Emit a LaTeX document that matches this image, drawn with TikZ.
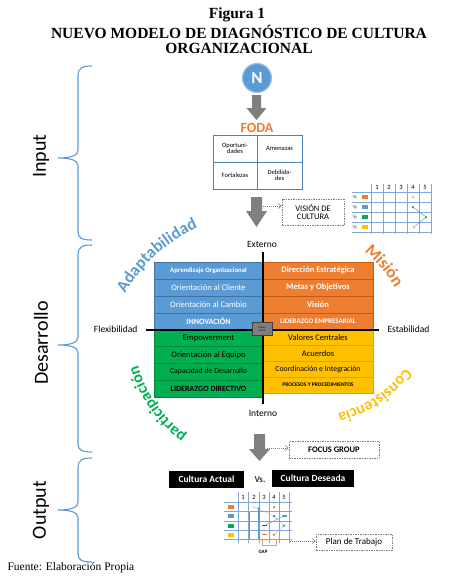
\documentclass[tikz,border=0pt]{standalone}
\usepackage{fontspec}
\setmainfont{Liberation Serif}
\newfontfamily\cbr{Carlito}
\usetikzlibrary{decorations.text,arrows.meta}
\definecolor{cblue}{HTML}{5B9BD5}
\definecolor{cblued}{HTML}{41719C}
\definecolor{corange}{HTML}{ED7D31}
\definecolor{corad}{HTML}{C55A11}
\definecolor{cgreen}{HTML}{00B050}
\definecolor{cgreend}{HTML}{00893E}
\definecolor{cyellow}{HTML}{FFC000}
\definecolor{cyellowd}{HTML}{D9A300}
\definecolor{agray}{HTML}{7F7F7F}
\definecolor{gridb}{HTML}{7FA7D9}
\definecolor{tblue}{HTML}{4F81BD}
\newcommand\fsz[1]{\fontsize{#1}{#1}\selectfont}
% curved word: #1 colour, #2 size, #3 text, #4 start point, #5 start angle, #6 end angle, #7 radius
\newcommand\arcword[7]{%
  \path[decorate, decoration={text along path, text align=center,
    text={|\cbr\bfseries\fsz{#2}\color{#1}|#3}}]
    (#4) arc[start angle=#5, end angle=#6, radius=#7];}
\begin{document}
\begin{tikzpicture}[x=1pt,y=1pt,
  brace/.style={draw=cblue, line width=1.1pt, line join=round},
  sidelabel/.style={rotate=90, font=\cbr\fsz{20}},
  blockarr/.style={fill=agray, draw=none},
  fcell/.style={draw=tblue, line width=0.8pt, align=center, inner sep=0pt, font=\cbr\fsz{6.5}, minimum height=27pt},
  dbox/.style={draw=agray, dash pattern=on 1.5pt off 1pt, line width=0.6pt, inner sep=0pt, align=center, font=\cbr\fsz{8.5}},
  dotline/.style={draw=agray, dash pattern=on 1pt off 1pt, line width=0.6pt, -{Straight Barb[length=3pt,width=5pt]}},
  qcell/.style={inner sep=0pt, outer sep=0pt, line width=0.5pt},
  bcell/.style={qcell, fill=cblue, draw=cblued, text=white, minimum width=109pt, minimum height=17pt},
  ocell/.style={qcell, fill=corange, draw=corad, text=white, minimum width=110pt, minimum height=17pt},
  gcell/.style={qcell, fill=cgreen, draw=cgreend, text=black, minimum width=109pt, minimum height=16.75pt},
  ycell/.style={qcell, fill=cyellow, draw=cyellowd, text=black, minimum width=110pt, minimum height=15.75pt},
  axlabel/.style={font=\cbr\fsz{9.5}},
  blackbox/.style={fill=black, text=white, font=\cbr\bfseries\fsz{9.5}, inner sep=0pt},
  gridl/.style={draw=gridb, line width=0.5pt},
  cnum/.style={font=\cbr\fsz{6.5}, inner sep=0pt}
]
\useasboundingbox (0,0) rectangle (474,-576);
% ---------- title ----------
\node[anchor=base, font=\bfseries\fsz{15.5}] (t1) at (237,-18) {Figura 1};
\node[anchor=base, font=\bfseries\fsz{15.5}] (t2) at (239,-38) {NUEVO MODELO DE DIAGNÓSTICO DE CULTURA};
\node[anchor=base, font=\bfseries\fsz{15.5}] (t3) at (239,-53) {ORGANIZACIONAL};
\node[anchor=base west, font=\fsz{11.5}] (src) at (4,-570) {Fuente: Elaboración Propia};
% ---------- braces ----------
\draw[brace] (92,-66) .. controls (82,-66) and (78,-68) .. (78,-76) -- (78,-150)
  .. controls (78,-156) and (70,-158) .. (58,-158) .. controls (70,-158) and (78,-160) .. (78,-166)
  -- (78,-232) .. controls (78,-238) and (82,-240) .. (92,-240);
\draw[brace] (92,-245) .. controls (82,-245) and (78,-247) .. (78,-255) -- (78,-337)
  .. controls (78,-343) and (70,-345) .. (58,-345) .. controls (70,-345) and (78,-347) .. (78,-353)
  -- (78,-444) .. controls (78,-450) and (82,-452) .. (92,-452);
\draw[brace] (92,-458) .. controls (82,-458) and (78,-460) .. (78,-468) -- (78,-502)
  .. controls (78,-508) and (70,-510) .. (58,-510) .. controls (70,-510) and (78,-512) .. (78,-518)
  -- (78,-554) .. controls (78,-560) and (82,-562) .. (92,-562);
\node[sidelabel] (linput) at (41,-156) {Input};
\node[sidelabel] (ldes) at (41,-343) {Desarrollo};
\node[sidelabel] (lout) at (41,-510) {Output};
% ---------- input ----------
\node[circle, fill=cblue, draw=cblue!60!white, line width=1.2pt, minimum size=29pt, inner sep=0pt, text=white, font=\cbr\bfseries\fsz{17}] (nn) at (257,-78) {N};
\fill[blockarr] (252,-95) -- (261,-95) -- (261,-108) -- (266.5,-108) -- (256.5,-120) -- (246.5,-108) -- (252,-108) -- cycle;
\node[text=corange, font=\cbr\bfseries\fsz{14}] (foda) at (257,-128) {FODA};
\node[fcell, minimum width=44pt] (fo) at (235,-148.5) {Oportuni-\\dades};
\node[fcell, minimum width=45pt] (fa) at (279.5,-148.5) {Amenazas};
\node[fcell, minimum width=44pt] (ff) at (235,-175.5) {Fortalezas};
\node[fcell, minimum width=45pt] (fd) at (279.5,-175.5) {Debilida-\\des};
\fill[blockarr] (251,-197) -- (262,-197) -- (262,-211) -- (267,-211) -- (256.5,-227) -- (246,-211) -- (251,-211) -- cycle;
\coordinate (a2) at (263,-206);
\node[dbox, minimum width=62pt, minimum height=26pt] (vis) at (313,-212) {VISIÓN DE\\CULTURA};
\draw[dotline] (a2) -- (a2 -| vis.west);
% small chart (top)
\foreach \yy in {192,202,212,222,232} \draw[gridl] (352,-\yy) -- (432,-\yy);
\foreach \xx in {371,383,395,407,419,431} \draw[gridl] (\xx,-184) -- (\xx,-234);
\foreach \n/\xx in {1/377,2/389,3/401,4/413,5/425} \node[cnum] (tc\n) at (\xx,-187.5) {\n};
\foreach \c/\yy [count=\i] in {corange/197,cblue/207,cgreen/217,cyellow/227}{
  \node[rotate=90, inner sep=0pt, font=\fsz{6.5}] (tx\i) at (355,-\yy) {$\bar{x}$};
  \node[fill=\c, minimum width=6pt, minimum height=4pt, inner sep=0pt] (ts\i) at (365,-\yy) {};
}
\node[circle, fill=corange!70, inner sep=0pt, minimum size=2.5pt] (td1) at (413,-197) {};
\node[circle, fill=cblued, inner sep=0pt, minimum size=2.5pt] (td2) at (413,-207) {};
\node[circle, fill=cgreen, inner sep=0pt, minimum size=2.5pt] (td3) at (426,-217) {};
\node[circle, fill=corange!70, inner sep=0pt, minimum size=2.5pt] (td4) at (414,-227) {};
\draw[cblue, line width=0.5pt] (td2) -- (td3) -- (td4);
% ---------- curved words ----------
\arcword{cblue}{17}{Adaptabilidad}{118.4,-307.0}{156}{108}{155}
\arcword{corange}{17}{Misión}{352.9,-242.2}{54}{26}{158}
\arcword{cgreen}{16}{participación}{198,-442.6}{240}{190}{130}
\arcword{cyellow}{16}{Consistencia}{413.3,-354.9}{-28}{-84}{117}
% ---------- quadrant ----------
\node[bcell, font=\cbr\bfseries\fsz{6.8}] (b1) at (208.5,-270.5) {Aprendizaje Organizacional};
\node[bcell, font=\cbr\fsz{8.5}] (b2) at (208.5,-287.5) {Orientación al Cliente};
\node[bcell, font=\cbr\fsz{8.5}] (b3) at (208.5,-304.5) {Orientación al Cambio};
\node[bcell, font=\cbr\bfseries\fsz{8}] (b4) at (208.5,-321.5) {INNOVACIÓN};
\node[ocell, font=\cbr\bfseries\fsz{8.5}] (o1) at (318,-270.5) {Dirección Estratégica};
\node[ocell, font=\cbr\bfseries\fsz{8.5}] (o2) at (318,-287.5) {Metas y Objetivos};
\node[ocell, font=\cbr\bfseries\fsz{8.5}] (o3) at (318,-304.5) {Visión};
\node[ocell, font=\cbr\bfseries\fsz{7}] (o4) at (318,-321.5) {LIDERAZGO EMPRESARIAL};
\node[gcell, font=\cbr\fsz{8.5}] (g1) at (208.5,-338.4) {Empowerment};
\node[gcell, font=\cbr\fsz{8.5}] (g2) at (208.5,-355.1) {Orientación al Equipo};
\node[gcell, font=\cbr\fsz{7.8}] (g3) at (208.5,-371.9) {Capacidad de Desarrollo};
\node[gcell, font=\cbr\bfseries\fsz{8}] (g4) at (208.5,-388.6) {LIDERAZGO DIRECTIVO};
\node[ycell, font=\cbr\fsz{8.5}] (y1) at (318,-337.9) {Valores Centrales};
\node[ycell, font=\cbr\fsz{8.5}] (y2) at (318,-353.6) {Acuerdos};
\node[ycell, font=\cbr\fsz{7.8}] (y3) at (318,-369.4) {Coordinación e Integración};
\node[ycell, font=\cbr\bfseries\fsz{5.5}] (y4) at (318,-385.1) {PROCESOS Y PROCEDIMIENTOS};
\coordinate (hl) at (146,-330);
\coordinate (hr) at (379,-330);
\coordinate (vt) at (263,-252);
\coordinate (vb) at (263,-404);
\draw[line width=1.3pt] (hl) -- (hr);
\draw[line width=1.3pt] (vt) -- (vb);
\node[fill=agray, draw=gray!50!black, line width=0.3pt, minimum width=20pt, minimum height=13pt, inner sep=0pt, align=center, font=\cbr\fsz{2.6}, text=black] (badge) at (262,-329) {Cultura\\Actual};
\node[axlabel] (ext) at (262,-244) {Externo};
\node[axlabel] (int) at (263,-413) {Interno};
\node[axlabel, anchor=east] (flex) at (141,-329.5) {Flexibilidad};
\node[axlabel, anchor=west] (est) at (384,-329.5) {Estabilidad};
% ---------- output ----------
\fill[blockarr] (254,-434) -- (265,-434) -- (265,-449) -- (270,-449) -- (259.5,-461) -- (249,-449) -- (254,-449) -- cycle;
\coordinate (a3) at (267,-448);
\node[dbox, font=\cbr\bfseries\fsz{8.5}, minimum width=90pt, minimum height=17pt] (focus) at (334,-449.5) {FOCUS GROUP};
\draw[dotline] (a3) -- (a3 -| focus.west);
\node[blackbox, minimum width=75pt, minimum height=17pt] (ca) at (206.5,-479.5) {Cultura Actual};
\node[font=\cbr\bfseries\fsz{9}, text=black!80] (vs) at (260,-480) {Vs.};
\node[blackbox, minimum width=82pt, minimum height=17pt] (cd) at (313,-478.5) {Cultura Deseada};
% small chart (bottom)
\foreach \yy in {502,511.5,521,530,539} \draw[gridl] (224,-\yy) -- (292,-\yy);
\foreach \xx in {238,248.5,259,269,279,289.5} \draw[gridl] (\xx,-492) -- (\xx,-543);
\foreach \n/\xx in {1/243,2/254,3/264,4/274,5/284} \node[cnum] (bc\n) at (\xx,-497) {\n};
\foreach \c/\yy [count=\i] in {corange/507,cblue/516,cgreen/525.5,cyellow/534.5}{
  \node[fill=\c, minimum width=6pt, minimum height=4pt, inner sep=0pt] (bs\i) at (231,-\yy) {};
}
\draw[cblue, line width=1.4pt] (259,-507) -- (259,-539);
\draw[cblue, line width=0.6pt] (249,-512) -- (249,-539);
\node[circle, fill=corange!40, inner sep=0pt, minimum size=2.5pt] (bd1) at (254,-507) {};
\node[circle, fill=corange, inner sep=0pt, minimum size=2.5pt] (bd2) at (274,-507) {};
\node[circle, fill=cblued, inner sep=0pt, minimum size=2.5pt] (bd3) at (274,-516) {};
\node[fill=cblue, inner sep=0pt, minimum width=5pt, minimum height=1.5pt] (bd4) at (284,-516) {};
\node[fill=cgreend, inner sep=0pt, minimum width=5pt, minimum height=1.5pt] (bd5) at (264,-525.5) {};
\node[circle, fill=cgreen, inner sep=0pt, minimum size=2.5pt] (bd6) at (284,-525.5) {};
\node[fill=corange, inner sep=0pt, minimum width=5pt, minimum height=1.5pt] (bd7) at (264,-534.5) {};
\node[circle, fill=corange, inner sep=0pt, minimum size=2.5pt] (bd8) at (274,-534.5) {};
\draw[gridb, line width=0.4pt, dash pattern=on 1pt off 0.7pt] (bd1) -- (bd3) -- (bd6) -- (bd8);
\draw[cblue, line width=0.4pt] (bd4) -- (bd5) -- (bd7);
\draw[corange!80, line width=0.6pt] (262,-539) -- (262,-545) -- (276,-545) -- (276,-539);
\node[font=\cbr\bfseries\fsz{5}] (gap) at (263,-552) {GAP};
\coordinate (a4) at (290,-541);
\node[dbox, font=\cbr\fsz{9}, minimum width=76pt, minimum height=16pt] (plan) at (354,-542) {Plan de Trabajo};
\draw[dotline] (a4) -- (a4 -| plan.west);
\end{tikzpicture}
\end{document}
